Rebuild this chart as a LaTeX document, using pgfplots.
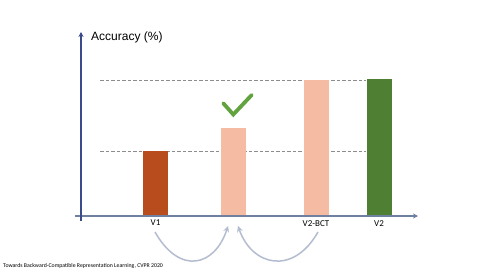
\documentclass[border=0pt]{standalone}
\usepackage{pgfplots}
\pgfplotsset{compat=1.18}
\usepackage{fontspec}
\setmainfont{Carlito}
\newfontfamily\arialfont{Liberation Sans}
\usetikzlibrary{arrows.meta}
\definecolor{vone}{HTML}{B84C1C}
\definecolor{salmon}{HTML}{F5BBA3}
\definecolor{vtwo}{HTML}{4F7F33}
\definecolor{checkg}{HTML}{63A33F}
\definecolor{dashg}{HTML}{8C8C8C}
\definecolor{arrg}{HTML}{B4BDD0}
\definecolor{yax}{HTML}{3B4A8A}
\definecolor{xax}{HTML}{7080A0}
\begin{document}
\begin{tikzpicture}
\path[fill=white] (0pt,0pt) rectangle (480pt,270pt);
\begin{axis}[
  at={(70pt,54pt)}, anchor=south west,
  scale only axis, width=350pt, height=190pt,
  xmin=70, xmax=420, ymin=0, ymax=190,
  clip=false,
  axis line style={draw=none},
  major tick length=0pt,
  ytick=\empty,
  xtick={155.5,316,379},
  xticklabels={V1,V2-BCT,V2},
  xticklabel style={font=\fontsize{9}{10}\selectfont, anchor=north, inner sep=0pt, yshift=-4pt},
]
% dashed reference lines
\addplot[dashg, line width=0.8pt, dash pattern=on 3.5pt off 2pt] coordinates {(100,136) (366,136)};
\addplot[dashg, line width=0.8pt, dash pattern=on 3.5pt off 2pt] coordinates {(100,65) (366,65)};
% bars
\addplot[ybar, bar width=25pt, bar shift=0pt, fill=vone, draw=none] coordinates {(155.5,65)};
\addplot[ybar, bar width=25pt, bar shift=0pt, fill=salmon, draw=none] coordinates {(233.5,88)};
\addplot[ybar, bar width=25pt, bar shift=0pt, fill=salmon, draw=none] coordinates {(316,136)};
\addplot[ybar, bar width=25pt, bar shift=0pt, fill=vtwo, draw=none] coordinates {(379,137)};
% check mark
\addplot[checkg, line width=3.8pt, line cap=round, line join=miter] coordinates {(223.3,112.7) (233.3,101.5) (251.7,121)};
% axes
\draw[xax, line width=1.6pt, -{Stealth[length=5pt,width=5pt]}] (axis cs:75,0) -- (axis cs:418,0);
\draw[yax, line width=1.2pt, -{Stealth[length=5pt,width=5pt]}] (axis cs:81,-5) -- (axis cs:81,184);
% curved arrows
\draw[arrg, line width=1.5pt, -{Stealth[length=6pt,width=6pt]}] (axis cs:155,-16) .. controls (axis cs:180,-60) and (axis cs:215,-50) .. (axis cs:228,-10);
\draw[arrg, line width=1.5pt, -{Stealth[length=6pt,width=6pt]}] (axis cs:318,-16) .. controls (axis cs:293,-60) and (axis cs:252,-50) .. (axis cs:238,-10);
\end{axis}
\node[anchor=base west, inner sep=0pt, font=\arialfont\fontsize{12}{14}\selectfont] at (91pt,229.3pt) {Accuracy (\%)};
\node[anchor=base west, inner sep=0pt, font=\fontsize{5.8}{6}\selectfont] at (3pt,3pt) {Towards Backward-Compatible Representation Learning, CVPR 2020};
\end{tikzpicture}
\end{document}
